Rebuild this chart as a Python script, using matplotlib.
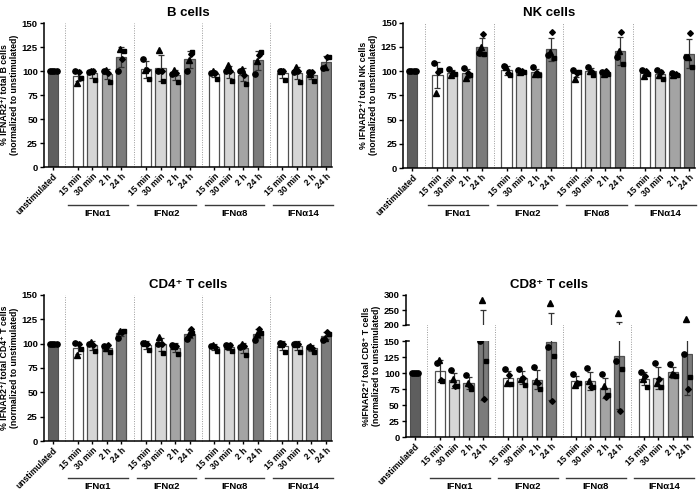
import numpy as np
import matplotlib
matplotlib.use("Agg")
import matplotlib.pyplot as plt
from matplotlib.transforms import blended_transform_factory

plt.rcParams["font.family"] = ["Liberation Sans", "DejaVu Sans"]
plt.rcParams["font.weight"] = "bold"
plt.rcParams["axes.titleweight"] = "bold"
plt.rcParams["axes.labelweight"] = "bold"

GROUPS = ["IFNα1", "IFNα2", "IFNα8", "IFNα14"]
TIMES = ["15 min", "30 min", "2 h", "24 h"]
UNSTIM = [100, 100, 100, 100]

# per donor, order: IFNa1 (15m, 30m, 2h, 24h), IFNa2 ..., IFNa8 ..., IFNa14 ...
B_CIRCLE = [100, 99, 100, 100, 113, 100, 97, 100, 98, 100, 100, 97, 100, 99, 99, 103]
B_SQUARE = [93, 91, 89, 121, 92, 90, 89, 120, 92, 90, 87, 120, 91, 89, 90, 115]
B_TRIANGLE = [88, 100, 101, 123, 101, 122, 101, 111, 100, 106, 102, 110, 100, 104, 97, 104]
B_DIAMOND = [99, 100, 98, 113, 101, 100, 98, 118, 98, 100, 96, 117, 100, 100, 99, 115]

NK_CIRCLE = [108, 102, 103, 119, 105, 101, 104, 117, 101, 104, 99, 114, 101, 101, 98, 114]
NK_SQUARE = [101, 97, 96, 118, 96, 99, 96, 113, 99, 96, 97, 107, 97, 92, 96, 104]
NK_TRIANGLE = [77, 96, 93, 125, 104, 99, 97, 120, 92, 100, 97, 121, 95, 96, 96, 114]
NK_DIAMOND = [99, 98, 98, 138, 98, 100, 98, 140, 98, 99, 100, 140, 100, 99, 97, 139]

CD4_CIRCLE = [101, 100, 98, 106, 101, 100, 99, 105, 98, 99, 97, 104, 101, 100, 97, 104]
CD4_SQUARE = [94, 92, 91, 113, 93, 90, 89, 111, 92, 92, 88, 111, 91, 91, 91, 110]
CD4_TRIANGLE = [88, 102, 96, 113, 101, 107, 98, 110, 99, 98, 100, 110, 100, 100, 98, 106]
CD4_DIAMOND = [100, 99, 99, 112, 100, 100, 98, 115, 97, 99, 98, 115, 100, 100, 96, 112]

CD8_CIRCLE = [116, 105, 97, 150, 106, 107, 110, 140, 99, 108, 98, 118, 102, 116, 114, 130]
CD8_SQUARE = [88, 80, 75, 118, 83, 82, 75, 126, 85, 78, 66, 107, 78, 78, 95, 94]
CD8_TRIANGLE = [121, 90, 85, 285, 85, 90, 88, 272, 82, 87, 80, 239, 90, 85, 98, 220]
CD8_DIAMOND = [89, 80, 80, 60, 97, 92, 85, 56, 85, 78, 63, 40, 95, 90, 97, 75]

UNSTIM_COLOR = "#5e5e5e"
TIME_COLORS = ["#ffffff", "#d6d6d6", "#a4a4a4", "#7b7b7b"]
EDGE = "#505050"
MARKERS = [("o", 3.8, -0.2), ("s", 3.4, 0.2), ("^", 4.0, -0.07), ("D", 2.9, 0.07)]

W = 0.7
X = np.array([1.7 + g * 4.7 + i for g in range(4) for i in range(4)])
DIVIDERS = [0.85] + [1.7 + g * 4.7 + 3.85 for g in range(3)]
XLIM = (-0.62, 19.2)


def draw_bars(ax, donors):
    pts = np.array(donors, dtype=float)
    means = pts.mean(axis=0)
    sds = pts.std(axis=0, ddof=1)
    ax.bar(0, np.mean(UNSTIM), W, color=UNSTIM_COLOR, edgecolor=EDGE, lw=0.8, zorder=2)
    ax.bar(X, means, W, color=TIME_COLORS * 4, edgecolor=EDGE, lw=0.9, zorder=2)
    ax.errorbar(X, means, yerr=sds, fmt="none", ecolor="#333333",
                elinewidth=0.9, capsize=2.3, capthick=0.9, zorder=3)
    for (m, ms, off), vals in zip(MARKERS, donors):
        ax.plot(X + off, vals, m, color="black", ms=ms, ls="none", zorder=4)
    ax.plot([-0.24, -0.08, 0.08, 0.24], UNSTIM, "o", color="black", ms=3.8, zorder=4)
    ax.set_xlim(*XLIM)


def style_axis(ax):
    for s in ("top", "right"):
        ax.spines[s].set_visible(False)
    for s in ("left", "bottom"):
        ax.spines[s].set_linewidth(1.1)
    ax.tick_params(axis="y", length=3, width=1, labelsize=6.8, pad=1.5)
    ax.tick_params(axis="x", length=2.5, width=1, labelsize=6.2, pad=1)


def x_labels(ax, fig, y_line, y_text):
    ax.set_xticks([0] + list(X))
    ax.set_xticklabels(["unstimulated"] + TIMES * 4, rotation=45, ha="right",
                       rotation_mode="anchor")
    tr = blended_transform_factory(ax.transData, fig.transFigure)
    for g, name in enumerate(GROUPS):
        x0 = X[g * 4] - 0.65
        x1 = X[g * 4 + 3] + 0.45
        ax.plot([x0, x1], [y_line, y_line], color="#3a3a3a", lw=1.0,
                transform=tr, clip_on=False)
        ax.text((x0 + x1) / 2, y_text, name, transform=tr, ha="center",
                va="center", fontsize=6.8)


def dividers(ax, top=1.0):
    for d in DIVIDERS:
        ax.axvline(d, ymin=0, ymax=top, color="#9a9a9a", lw=0.7, ls=(0, (1, 1.5)),
                   clip_on=False, zorder=1)


def simple_panel(fig, rect, donors, title, ylabel, y_line, y_text):
    ax = fig.add_axes(rect)
    draw_bars(ax, donors)
    style_axis(ax)
    ax.set_ylim(0, 150)
    ax.set_yticks([0, 25, 50, 75, 100, 125, 150])
    dividers(ax)
    ax.set_title(title, fontsize=9.5, pad=5)
    ax.set_ylabel(ylabel, fontsize=6.3, labelpad=2, linespacing=1.1)
    x_labels(ax, fig, y_line, y_text)
    return ax


fig = plt.figure(figsize=(7, 4.9), dpi=100)

simple_panel(fig, [0.063, 0.659, 0.411, 0.294],
             [B_CIRCLE, B_SQUARE, B_TRIANGLE, B_DIAMOND], "B cells",
             "% IFNAR2⁺/ total B cells\n(normalized to unstimulated)",
             1 - 205 / 490, 1 - 213 / 490)
simple_panel(fig, [0.576, 0.657, 0.417, 0.297],
             [NK_CIRCLE, NK_SQUARE, NK_TRIANGLE, NK_DIAMOND], "NK cells",
             "% IFNAR2⁺/ total NK cells\n(normalized to unstimulated)",
             1 - 205 / 490, 1 - 213 / 490)
simple_panel(fig, [0.063, 0.10, 0.411, 0.298],
             [CD4_CIRCLE, CD4_SQUARE, CD4_TRIANGLE, CD4_DIAMOND], "CD4⁺ T cells",
             "% IFNAR2⁺/ total CD4⁺ T cells\n(normalized to unstimulated)",
             1 - 478 / 490, 1 - 486 / 490)

# CD8 panel with broken y axis
cd8 = [CD8_CIRCLE, CD8_SQUARE, CD8_TRIANGLE, CD8_DIAMOND]
lo_b, lo_t = 1 - 437 / 490, 1 - 341 / 490
up_b, up_t = 1 - 325 / 490, 1 - 295 / 490
ax_lo = fig.add_axes([0.58, lo_b, 0.41, lo_t - lo_b])
ax_up = fig.add_axes([0.58, up_b, 0.41, up_t - up_b])
for ax in (ax_lo, ax_up):
    draw_bars(ax, cd8)
    style_axis(ax)
ax_lo.set_ylim(0, 150)
ax_lo.set_yticks([0, 25, 50, 75, 100, 125, 150])
ax_up.set_ylim(200, 300)
ax_up.set_yticks([200, 250, 300])
ax_up.spines["bottom"].set_visible(False)
ax_up.set_xticks([])
dividers(ax_lo, top=(437 - 295) / 96)
ax_up.set_title("CD8⁺ T cells", fontsize=9.5, pad=5)
ax_lo.plot([0, 0.012], [1, 1], transform=ax_lo.transAxes, color="black", lw=1.1, clip_on=False)
ax_up.plot([0, 0.012], [0, 0], transform=ax_up.transAxes, color="black", lw=1.1, clip_on=False)
x_labels(ax_lo, fig, 1 - 478 / 490, 1 - 486 / 490)
fig.text(0.531, (up_t + lo_b) / 2, "%IFNAR2⁺/ toal CD8⁺ T cells\n(normalized to unstimulated)",
         rotation=90, ha="center", va="center", fontsize=6.3, linespacing=1.1)

fig.savefig("out.png", dpi=100)
